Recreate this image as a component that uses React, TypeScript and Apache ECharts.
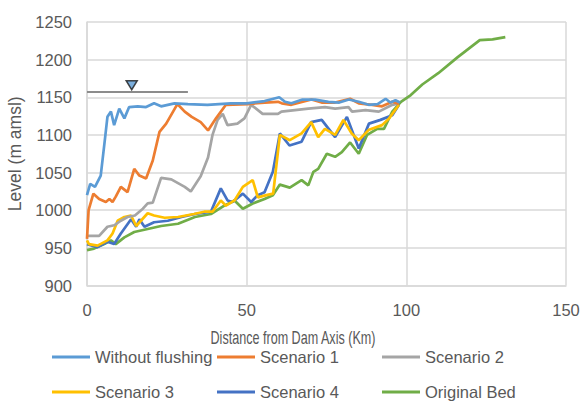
import React, { useEffect, useRef } from "react";
import * as echarts from "echarts";

const xTicks = { min: 0, max: 150, interval: 50 };
const yTicks = { min: 900, max: 1250, interval: 50 };

const xAxisTitle = "Distance from Dam Axis (Km)";
const yAxisTitle = "Level (m amsl)";

const seriesNames = ["Without flushing", "Scenario 1", "Scenario 2", "Scenario 3", "Scenario 4", "Original Bed"];
const seriesColors = ["#5B9BD5", "#ED7D31", "#A5A5A5", "#FFC000", "#4472C4", "#70AD47"];

const withoutFlushing: [number, number][] = [
  [0, 1020], [1, 1035], [2.5, 1031], [4.3, 1046], [5.5, 1090], [6.4, 1124], [7.5, 1131], [8.5, 1113],
  [10.1, 1135], [11.7, 1122], [13.2, 1137], [15.9, 1138], [18.5, 1137], [21, 1142], [23.2, 1138],
  [27.4, 1142], [31.6, 1141], [37.7, 1140], [45, 1142], [50, 1142], [55.6, 1145], [60.2, 1150],
  [62, 1144], [64, 1142], [67.5, 1147], [71.4, 1147], [75.6, 1144], [79, 1143], [82, 1147],
  [85.1, 1144], [88.2, 1140], [91, 1141], [93.5, 1148], [95, 1143], [96.6, 1146], [98, 1143],
];
const scenario1: [number, number][] = [
  [0, 962], [0.5, 1000], [2, 1022], [3.8, 1015], [5.9, 1011], [7, 1015], [8, 1011], [9, 1018],
  [10.6, 1031], [12.7, 1024], [14.8, 1055], [16.4, 1046], [18.5, 1042], [20.6, 1066], [22.7, 1104],
  [24.8, 1115], [28.3, 1141], [30.6, 1131], [32.8, 1124], [35.6, 1117], [37.9, 1106], [40.4, 1122],
  [43.5, 1140], [50.4, 1141], [55.6, 1143], [59.8, 1144], [61, 1142], [64, 1140], [70.3, 1147],
  [73.5, 1143], [77.7, 1143], [82.4, 1148], [85.1, 1142], [89.3, 1140], [92.4, 1138], [95.6, 1144],
  [97.7, 1141],
];
const scenario2: [number, number][] = [
  [0, 966], [3.8, 966], [6.4, 978], [8.5, 980], [10.6, 986], [12.7, 991], [15, 993], [17.5, 1002],
  [19, 1009], [20.6, 1010], [23.2, 1043], [26.4, 1041], [30.6, 1031], [32.5, 1025], [35.6, 1045],
  [37.9, 1070], [39.3, 1100], [40.9, 1120], [42.5, 1128], [44, 1113], [47.1, 1115], [49.3, 1122],
  [51.4, 1140], [55, 1128], [59.8, 1128], [60.9, 1131], [65.1, 1133], [69.3, 1135], [74.5, 1137],
  [77.7, 1135], [81.9, 1137], [83, 1131], [87.2, 1133], [91.4, 1131], [95.6, 1140], [97.7, 1142],
];
const scenario3: [number, number][] = [
  [0, 960], [0.6, 955], [3.3, 953], [6.4, 960], [8, 969], [9.6, 986], [11.7, 991], [13.8, 993],
  [15.4, 979], [19, 996], [21, 993], [24.3, 990], [28.5, 991], [33.5, 995], [36.7, 998], [39.3, 998],
  [41.9, 1013], [43.5, 1006], [46.2, 1013], [48.8, 1031], [51.9, 1040], [53.5, 1017], [56.2, 1020],
  [58.3, 1022], [60.4, 1100], [63.5, 1093], [67.2, 1102], [70.2, 1117], [72.4, 1097], [74.5, 1108],
  [77.7, 1100], [80.3, 1120], [82.9, 1102], [85.1, 1093], [88.3, 1107], [92.4, 1113], [94.6, 1122],
  [97.7, 1140],
];
const scenario4: [number, number][] = [
  [0, 955], [3.3, 951], [6.4, 958], [8.5, 955], [10.6, 969], [13.8, 988], [15.4, 978], [16.4, 988],
  [18, 978], [21, 984], [25.3, 986], [29.6, 991], [33.8, 995], [38.8, 998], [41.9, 1029], [44, 1013],
  [45.6, 1011], [48.8, 1022], [51.4, 1011], [53.5, 1020], [55.6, 1024], [58.2, 1051], [60.4, 1102],
  [63.4, 1086], [67.2, 1091], [70.2, 1117], [73.5, 1120], [77.7, 1097], [81.4, 1124], [85.1, 1082],
  [88.3, 1115], [91.9, 1120], [95.6, 1126], [97.7, 1140],
];
const originalBed: [number, number][] = [
  [0, 947], [2.2, 949], [5.4, 955], [7.5, 960], [9, 955], [11.7, 964], [14.8, 971], [19, 975],
  [23.2, 979], [28.5, 982], [33.8, 991], [38.8, 995], [43, 1006], [46.2, 1013], [48.8, 1002],
  [51.9, 1009], [55.6, 1015], [58.2, 1020], [60.4, 1034], [63.5, 1030], [67.2, 1040], [69.3, 1033],
  [70.9, 1051], [72.4, 1055], [75.1, 1075], [77.7, 1071], [79.8, 1077], [82.4, 1090], [85.1, 1075],
  [87.7, 1100], [90.9, 1108], [93, 1108], [95.6, 1131], [98.3, 1144], [101.4, 1153], [105, 1167],
  [110, 1182], [116, 1203], [123, 1226], [127, 1227], [131, 1230],
];
const allSeries = [withoutFlushing, scenario1, scenario2, scenario3, scenario4, originalBed];

const waterLevelLine: [number, number][] = [[0, 1157], [31.6, 1157]];
const waterLevelMarker: [number, number][] = [[14, 1166]];

const FONT = "'Liberation Sans', Arial, sans-serif";
const TEXT = "#595959";

export default function App() {
  const ref = useRef<HTMLDivElement>(null);
  useEffect(() => {
    if (!ref.current) return;
    const chart = echarts.init(ref.current, undefined, { renderer: "svg" });
    const legendPos = [
      [52, 348], [217, 348], [382, 348],
      [52, 383], [217, 383], [382, 383],
    ];
    chart.setOption({
      animation: false,
      textStyle: { fontFamily: FONT },
      grid: { left: 87, right: 18, top: 22, bottom: 117.5, containLabel: false, outerBoundsMode: "none" },
      xAxis: {
        type: "value",
        min: xTicks.min,
        max: xTicks.max,
        interval: xTicks.interval,
        axisLine: { show: true, lineStyle: { color: "#D9D9D9", width: 1.5 } },
        axisTick: { show: false },
        axisLabel: { color: TEXT, fontSize: 16.5, fontFamily: FONT, margin: 16 },
        splitLine: { show: true, lineStyle: { color: "#D9D9D9", width: 1.5 } },
      },
      yAxis: {
        type: "value",
        min: yTicks.min,
        max: yTicks.max,
        interval: yTicks.interval,
        name: yAxisTitle,
        nameLocation: "middle",
        nameGap: 52,
        nameTextStyle: { color: TEXT, fontSize: 17.5, fontFamily: FONT },
        axisLine: { show: true, lineStyle: { color: "#D9D9D9", width: 1.5 } },
        axisTick: { show: false },
        axisLabel: { color: TEXT, fontSize: 16.5, fontFamily: FONT, margin: 15, formatter: (v: number) => String(v) },
        splitLine: { show: true, lineStyle: { color: "#D9D9D9", width: 1.5 } },
      },
      graphic: [
        {
          type: "text",
          x: 293,
          y: 338,
          scaleX: 0.7,
          scaleY: 1,
          style: {
            text: xAxisTitle,
            fill: TEXT,
            fontSize: 18,
            fontFamily: FONT,
            align: "center",
            verticalAlign: "middle",
          },
        },
      ],
      legend: seriesNames.map((name, i) => ({
        data: [{ name, icon: "rect" }],
        left: legendPos[i][0],
        top: legendPos[i][1],
        padding: 0,
        itemWidth: 38,
        itemHeight: 3,
        itemGap: 0,
        selectedMode: false,
        textStyle: { color: TEXT, fontSize: 16.5, fontFamily: FONT, lineHeight: 18 },
      })),
      series: [
        ...seriesNames.map((name, i) => ({
          name,
          type: "line",
          data: allSeries[i],
          showSymbol: false,
          symbol: "none",
          lineStyle: { color: seriesColors[i], width: 2.7 },
          itemStyle: { color: seriesColors[i] },
          z: i === 5 ? 1 : 2 + (5 - i),
        })),
        {
          name: "waterLine",
          type: "line",
          data: waterLevelLine,
          symbol: "none",
          lineStyle: { color: "#8C8C8C", width: 2 },
          z: 10,
        },
        {
          name: "waterMarker",
          type: "scatter",
          data: waterLevelMarker,
          symbol: "triangle",
          symbolRotate: 180,
          symbolSize: [11, 9],
          itemStyle: { color: "#5B9BD5", borderColor: "#1a1a1a", borderWidth: 1.5 },
          z: 11,
        },
      ],
    });
    return () => chart.dispose();
  }, []);
  return <div ref={ref} style={{ width: 584, height: 403, position: "absolute", left: 0, top: 0 }} />;
}
